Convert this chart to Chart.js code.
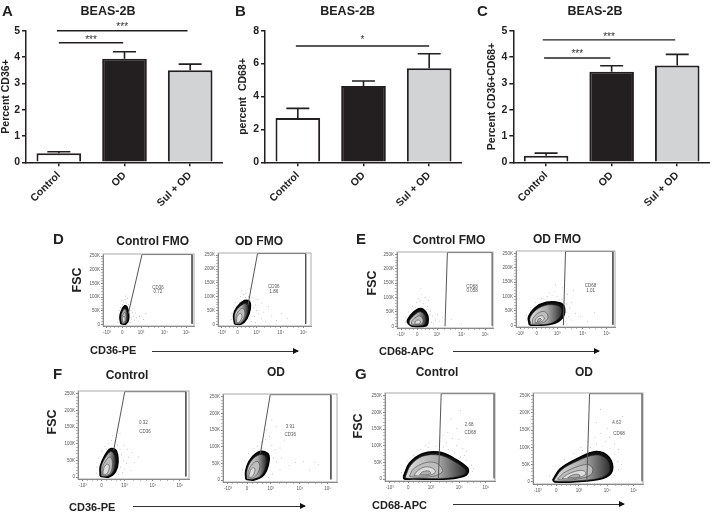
<!DOCTYPE html>
<html>
<head>
<meta charset="utf-8">
<title>BEAS-2B CD36 and CD68</title>
<script src="https://cdn.jsdelivr.net/npm/chart.js@4"></script>
<style>
  html, body { margin: 0; padding: 0; background: #fff; }
  #page { position: relative; width: 710px; height: 514px; overflow: hidden; font-family: "Liberation Sans", Arial, sans-serif; color: #222; filter: blur(0.35px); }
  #page canvas { position: absolute; }
  .txt { position: absolute; white-space: nowrap; font-weight: bold; line-height: 1; }
  .arrow { position: absolute; height: 1.3px; background: #333; }
  .arrow:after { content: ''; position: absolute; right: -1px; top: -3px; border-left: 6px solid #111; border-top: 3.6px solid transparent; border-bottom: 3.6px solid transparent; }
</style>
</head>
<body>
<div id="page"></div>
<script>
// Bar panels A, B, C
const barCategories = ['Control', 'OD', 'Sul + OD'];
const barFills = ['#ffffff', '#231f20', '#d1d3d4'];

const cd36Values = [0.34, 3.93, 3.5];
const cd36Errors = [0.40, 4.2, 3.73];
const cd36Brackets = [[-0.03, 1.96, 5.0, '***', 3], [0, 0.98, 4.54, '***', 3]];

const cd68Values = [2.69, 4.64, 5.71];
const cd68Errors = [3.28, 4.94, 6.6];
const cd68Brackets = [[-0.03, 2.0, 7.07, '*', 6]];

const bothValues = [0.25, 3.44, 3.68];
const bothErrors = [0.35, 3.67, 4.1];
const bothBrackets = [[-0.05, 1.97, 4.65, '***', 3], [-0.03, 0.98, 3.96, '***', 4]];

// Flow plots: x is in channel units, y in thousands of FSC
const flowXTicks = [0, 47, 105, 177, 245];
const flowXLabels = ['-10\u00b3', '0', '10\u00b3', '10\u2074', '10\u2075'];
const flowXMinor = [12, 24, 36, 60, 72, 84, 95, 127, 145, 160, 197, 214, 230];
const flowYTicks = [0, 50, 100, 150, 200, 250];
const flowYMinor = [10, 20, 30, 40, 60, 70, 80, 90, 110, 120, 130, 140, 160, 170, 180, 190, 210, 220, 230, 240];

const ringFills = ['#111111', '#777777', '#bdbdbd', '#dedede', '#b0b0b0'];

const gateD1 = [[66, 40], [108, 256], [262, 256], [262, 2]];
const ringsD1 = [
  [[43, 2], [40, 27], [45, 51], [55, 69], [62, 63], [67, 39], [66, 15], [58, 1]],
  [[46, 4], [44, 26], [48, 46], [55, 56], [60, 50], [63, 32], [61, 12], [54, 3]],
  [[47, 6], [46, 24], [50, 38], [55, 44], [58, 36], [59, 20], [56, 8], [51, 4]],
  [[49, 8], [48, 22], [52, 30], [55, 28], [56, 18], [54, 9]]
];
const specksD1 = [[38, 50], [42, 62], [48, 72], [52, 82], [56, 90], [60, 78], [66, 74], [70, 62], [74, 50], [78, 44], [82, 30], [76, 20], [84, 16], [90, 24], [96, 12], [72, 84], [64, 96], [50, 60], [36, 20], [34, 8], [70, 30], [80, 58], [88, 42], [100, 30], [112, 18], [120, 40], [68, 8], [74, 6], [58, 104], [46, 88]];
const notesD1 = [['CD36', 157, 136], ['0.72', 157, 120]];

const gateD2 = [[78, 68], [107, 256], [252, 256], [252, 2]];
const ringsD2 = [
  [[38, 1], [35, 33], [45, 62], [68, 86], [83, 82], [85, 56], [75, 21], [58, 1]],
  [[40, 3], [38, 32], [47, 56], [66, 74], [76, 70], [78, 50], [69, 20], [55, 3]],
  [[42, 5], [42, 30], [50, 48], [62, 58], [68, 48], [68, 30], [60, 12], [50, 5]],
  [[44, 7], [45, 26], [52, 38], [58, 38], [60, 26], [55, 12], [49, 7]]
];
const specksD2 = [[30, 40], [34, 60], [40, 78], [48, 92], [56, 100], [64, 108], [72, 112], [80, 100], [90, 96], [96, 84], [100, 70], [94, 60], [104, 50], [110, 38], [98, 28], [118, 20], [126, 44], [140, 64], [150, 30], [164, 14], [180, 40], [196, 22], [88, 10], [100, 6], [60, 122], [84, 130], [70, 96], [52, 78], [28, 18], [106, 90], [120, 76], [132, 10]];
const notesD2 = [['CD36', 156, 136], ['1.86', 156, 119]];

const gateE1 = [[128, 0], [135, 256], [266, 256], [266, 2]];
const ringsE1 = [
  [[19, 11], [19, 23], [38, 51], [57, 62], [73, 48], [79, 23], [73, 2], [33, 0]],
  [[24, 8], [26, 22], [42, 42], [56, 50], [68, 40], [72, 22], [66, 5], [34, 3]],
  [[30, 8], [32, 20], [44, 32], [54, 36], [62, 28], [64, 16], [58, 7], [38, 6]],
  [[40, 9], [42, 18], [50, 22], [56, 18], [54, 10], [46, 8]]
];
const specksE1 = [[14, 30], [22, 50], [34, 70], [46, 82], [56, 88], [66, 78], [78, 68], [86, 52], [92, 36], [100, 22], [88, 14], [106, 40], [112, 18], [60, 110], [50, 96], [42, 64], [28, 40], [12, 14], [80, 90], [70, 100], [94, 8], [120, 30], [146, 24], [176, 10], [58, 130], [64, 62], [74, 58], [84, 40]];
const notesE1 = [['CD68', 207, 138], ['0.058', 207, 122]];

const gateE2 = [[122, 0], [128, 257], [262, 257], [262, 2]];
const ringsE2 = [
  [[26, 1], [23, 27], [42, 61], [74, 80], [111, 78], [125, 61], [120, 27], [92, 5], [46, 0]],
  [[30, 3], [28, 26], [46, 54], [76, 70], [106, 68], [116, 56], [112, 30], [88, 8], [48, 2]],
  [[34, 5], [36, 24], [50, 42], [66, 48], [76, 40], [78, 24], [66, 10], [44, 5]],
  [[42, 9], [44, 22], [54, 32], [64, 32], [68, 22], [58, 12]],
  [[48, 12], [50, 20], [56, 24], [60, 20], [54, 13]]
];
const specksE2 = [[18, 36], [30, 62], [44, 78], [60, 92], [76, 100], [90, 104], [104, 100], [118, 90], [132, 74], [140, 60], [130, 46], [136, 30], [146, 18], [128, 14], [156, 40], [110, 88], [96, 116], [120, 130], [134, 108], [100, 140], [150, 120], [170, 30], [190, 12], [210, 44], [144, 80], [84, 112]];
const notesE2 = [['CD68', 199, 138], ['1.01', 199, 121]];

const gateF1 = [[78, 80], [106, 256], [260, 256], [260, 2]];
const ringsF1 = [
  [[44, 2], [44, 31], [56, 65], [70, 85], [84, 80], [89, 46], [83, 17], [66, 0]],
  [[47, 3], [47, 31], [58, 60], [70, 76], [78, 70], [82, 44], [76, 16], [62, 3]],
  [[49, 5], [50, 30], [59, 50], [68, 60], [74, 50], [74, 28], [68, 10], [56, 4]],
  [[51, 8], [53, 26], [60, 38], [66, 36], [66, 22], [60, 9]]
];
const specksF1 = [[36, 30], [40, 56], [48, 78], [56, 92], [64, 100], [72, 110], [80, 104], [88, 96], [94, 82], [98, 66], [102, 50], [96, 30], [106, 22], [110, 40], [116, 60], [124, 74], [130, 44], [86, 120], [94, 130], [76, 124], [104, 94], [112, 84], [100, 14], [90, 8], [34, 12], [60, 84], [122, 20], [140, 60]];
const notesF1 = [['0.32', 153, 162], ['CD36', 157, 136]];

const gateF2 = [[80, 80], [104, 256], [253, 256], [253, 2]];
const ringsF2 = [
  [[44, 2], [44, 29], [56, 63], [80, 86], [99, 78], [100, 49], [88, 15], [64, 0]],
  [[47, 3], [47, 28], [58, 58], [78, 76], [92, 70], [93, 46], [82, 14], [62, 3]],
  [[49, 6], [50, 26], [60, 48], [72, 56], [78, 44], [74, 22], [62, 6]],
  [[51, 9], [54, 24], [60, 36], [66, 34], [64, 18], [58, 9]]
];
const specksF2 = [[36, 30], [42, 58], [50, 80], [62, 94], [72, 102], [82, 112], [92, 122], [102, 130], [108, 104], [116, 92], [112, 66], [120, 54], [132, 66], [150, 44], [166, 52], [186, 56], [214, 52], [222, 46], [200, 30], [128, 30], [110, 18], [100, 8], [96, 150], [108, 180], [120, 160], [138, 120], [84, 96], [128, 96]];
const notesF2 = [['3.91', 153, 160], ['CD36', 153, 136]];

const gateG1 = [[124, 0], [131, 256], [266, 256], [266, 2]];
const ringsG1 = [
  [[35, 8], [50, 47], [83, 76], [124, 81], [158, 66], [199, 32], [195, 12], [149, 0], [58, 0], [37, 0]],
  [[40, 6], [54, 42], [84, 68], [124, 72], [156, 58], [192, 28], [190, 14], [148, 3], [60, 2], [42, 3]],
  [[50, 8], [60, 30], [88, 48], [112, 50], [128, 40], [134, 22], [110, 8], [70, 5]],
  [[62, 10], [70, 24], [90, 36], [110, 32], [116, 20], [96, 10]],
  [[76, 13], [84, 22], [100, 24], [104, 16], [90, 12]]
];
const specksG1 = [[30, 20], [44, 54], [60, 70], [78, 88], [98, 94], [118, 98], [136, 96], [150, 88], [166, 78], [180, 66], [196, 56], [208, 42], [210, 22], [200, 8], [170, 100], [160, 122], [148, 140], [136, 130], [176, 118], [186, 92], [196, 84], [170, 152], [190, 70], [144, 110], [128, 112], [100, 108], [214, 30], [184, 40], [156, 180], [180, 205], [205, 150], [90, 100]];
const notesG1 = [['2.68', 202, 164], ['CD68', 205, 138]];

const gateG2 = [[125, 0], [132, 256], [266, 256], [266, 2]];
const ringsG2 = [
  [[38, 5], [57, 38], [99, 67], [149, 88], [182, 71], [190, 33], [165, 10], [90, 0], [44, 0]],
  [[42, 5], [60, 34], [100, 60], [148, 78], [176, 64], [182, 32], [160, 12], [92, 3], [46, 3]],
  [[50, 8], [66, 26], [100, 44], [128, 50], [140, 38], [134, 20], [100, 8], [66, 5]],
  [[62, 10], [76, 22], [100, 32], [118, 32], [122, 22], [100, 11], [76, 9]],
  [[76, 12], [88, 20], [104, 22], [108, 16], [92, 12]]
];
const specksG2 = [[30, 18], [46, 46], [68, 66], [92, 82], [114, 92], [134, 100], [150, 110], [166, 104], [184, 96], [196, 80], [204, 60], [206, 36], [196, 18], [172, 118], [182, 128], [160, 140], [146, 128], [196, 110], [206, 94], [178, 156], [160, 210], [190, 170], [216, 190], [210, 130], [126, 118], [110, 100], [150, 172], [142, 88], [214, 50]];
const notesG2 = [['4.63', 201, 171], ['CD68', 207, 139]];

const page = document.getElementById('page');

function addCanvas(left, top, width, height) {
  const c = document.createElement('canvas');
  c.width = width;
  c.height = height;
  c.style.left = left + 'px';
  c.style.top = top + 'px';
  c.style.width = width + 'px';
  c.style.height = height + 'px';
  page.appendChild(c);
  return c;
}

function addText(text, x, y, size, opts) {
  opts = opts || {};
  const d = document.createElement('div');
  d.className = 'txt';
  d.textContent = text;
  d.style.fontSize = size + 'px';
  d.style.left = x + 'px';
  d.style.top = y + 'px';
  d.style.transform = (opts.center ? 'translate(-50%,-50%) ' : 'translateY(-50%) ') + (opts.rotate ? 'rotate(-90deg)' : '');
  page.appendChild(d);
}

function addArrow(x1, x2, y) {
  const d = document.createElement('div');
  d.className = 'arrow';
  d.style.left = x1 + 'px';
  d.style.top = y + 'px';
  d.style.width = (x2 - x1) + 'px';
  page.appendChild(d);
}

// Error bars and significance lines read their positions from the chart's scales
const barExtras = {
  id: 'barExtras',
  afterDatasetsDraw(chart, args, opts) {
    const ctx = chart.ctx;
    const x = chart.scales.x;
    const y = chart.scales.y;
    ctx.save();
    ctx.strokeStyle = '#231f20';
    ctx.lineWidth = 1.6;
    opts.errors.forEach(function(top, i) {
      const cx = x.getPixelForValue(i);
      const y0 = y.getPixelForValue(opts.values[i]);
      const y1 = y.getPixelForValue(top);
      ctx.beginPath();
      ctx.moveTo(cx, y0);
      ctx.lineTo(cx, y1);
      ctx.moveTo(cx - 11.5, y1);
      ctx.lineTo(cx + 11.5, y1);
      ctx.stroke();
    });
    opts.brackets.forEach(function(b) {
      const x0 = x.getPixelForValue(0);
      const step = x.getPixelForValue(1) - x0;
      const px = y.getPixelForValue(b[2]);
      ctx.lineWidth = 1.4;
      ctx.beginPath();
      ctx.moveTo(x0 + b[0] * step, px);
      ctx.lineTo(x0 + b[1] * step, px);
      ctx.stroke();
      ctx.fillStyle = '#333';
      ctx.font = '10px "Liberation Sans", Arial, sans-serif';
      ctx.textAlign = 'center';
      ctx.textBaseline = 'middle';
      ctx.fillText(b[3], x0 + (b[0] + b[1]) / 2 * step, px - b[4]);
    });
    ctx.restore();
  }
};

function barChart(left, axisX, axisRight, yMax, yStep, yTitle, values, errors, brackets) {
  const width = Math.ceil(axisRight - left);
  const c = addCanvas(left, 0, width, 215);
  const axisFont = { size: 10.5, weight: 'bold', family: '"Liberation Sans"' };
  return new Chart(c, {
    type: 'bar',
    data: {
      labels: barCategories,
      datasets: [{
        data: values,
        backgroundColor: barFills,
        borderColor: '#231f20',
        borderWidth: 2,
        barPercentage: 0.68,
        categoryPercentage: 1
      }]
    },
    options: {
      responsive: false,
      animation: false,
      layout: { padding: { top: 30.7 } },
      scales: {
        x: {
          afterFit(s) { s.height = 52.7; },
          border: { color: '#231f20', width: 1.5 },
          grid: { drawOnChartArea: false, offset: false, color: '#231f20', tickLength: 4, lineWidth: 1.5 },
          ticks: { minRotation: 45, maxRotation: 45, color: '#222', padding: 3, font: axisFont }
        },
        y: {
          min: 0,
          max: yMax,
          afterFit(s) { s.width = axisX - left; },
          border: { color: '#231f20', width: 1.5 },
          grid: { drawOnChartArea: false, color: '#231f20', tickLength: 4, lineWidth: 1.5 },
          ticks: { stepSize: yStep, color: '#222', padding: 2, font: axisFont },
          title: { display: true, text: yTitle, color: '#222', padding: 0, font: axisFont }
        }
      },
      plugins: {
        legend: { display: false },
        tooltip: { enabled: false },
        barExtras: { values: values, errors: errors, brackets: brackets }
      }
    },
    plugins: [barExtras]
  });
}

// Frame and the small gate labels of a flow plot
const flowExtras = {
  id: 'flowExtras',
  afterDatasetsDraw(chart, args, opts) {
    const ctx = chart.ctx;
    const a = chart.chartArea;
    ctx.save();
    ctx.strokeStyle = '#aaa';
    ctx.lineWidth = 1;
    ctx.strokeRect(a.left, a.top, a.right - a.left, a.bottom - a.top);
    ctx.fillStyle = '#555';
    ctx.font = '4.5px "Liberation Sans", Arial, sans-serif';
    ctx.textAlign = 'center';
    ctx.textBaseline = 'middle';
    opts.notes.forEach(function(n) {
      ctx.fillText(n[0], chart.scales.x.getPixelForValue(n[1]), chart.scales.y.getPixelForValue(n[2]));
    });
    ctx.restore();
  }
};

function toXY(list) {
  return list.map(function(p) { return { x: p[0], y: p[1] }; });
}

function flowChart(baseX, baseY, t0, t4, y0, y250, gate, rings, specks, notes) {
  // tick positions are given in 3x zoom coordinates of the region starting at baseX, baseY
  const pxU = (t4 - t0) / 3 / 245;
  const pxK = (y0 - y250) / 3 / 250;
  const areaLeft = baseX + t0 / 3 - 12 * pxU;
  const areaTop = baseY + y250 / 3 - 8 * pxK;
  const areaW = 280 * pxU;
  const areaH = 264 * pxK;
  const c = addCanvas(Math.round(areaLeft - 16), Math.round(areaTop - 2), Math.round(areaW + 18), Math.round(areaH + 14));

  const datasets = [];
  rings.forEach(function(ring, i) {
    const closed = ring.concat([ring[0]]);
    const xs = ring.map(function(p) { return p[0]; });
    datasets.push({
      type: 'scatter',
      showLine: true,
      data: toXY(closed),
      pointRadius: 0,
      tension: 0.35,
      fill: 'shape',
      borderColor: i === 0 ? '#000' : '#333',
      borderWidth: i === 0 ? 1.5 : 0.5,
      backgroundColor: function(context) {
        const sx = context.chart.scales.x;
        if (i === 1 && sx) {
          // second ring runs from light on the left to dark at the right rim
          const p0 = sx.getPixelForValue(Math.min.apply(null, xs));
          const p1 = sx.getPixelForValue(Math.max.apply(null, xs));
          if (!isFinite(p0) || !isFinite(p1)) return ringFills[i];
          const g = context.chart.ctx.createLinearGradient(p0, 0, p1, 0);
          g.addColorStop(0, '#dddddd');
          g.addColorStop(0.55, '#a8a8a8');
          g.addColorStop(1, '#333333');
          return g;
        }
        return ringFills[i];
      }
    });
  });
  datasets.push({
    type: 'scatter',
    showLine: true,
    data: toXY(gate),
    pointRadius: 0,
    borderColor: '#555',
    borderWidth: 1,
    fill: false
  });
  datasets.unshift({
    type: 'scatter',
    data: toXY(specks),
    pointRadius: 0.45,
    pointBorderWidth: 0,
    pointBackgroundColor: '#888'
  });

  return new Chart(c, {
    type: 'scatter',
    data: { datasets: datasets.reverse() },
    options: {
      responsive: false,
      animation: false,
      layout: { padding: { top: areaTop - Math.round(areaTop - 2), right: 2 } },
      scales: {
        x: {
          min: -12,
          max: 268,
          afterFit(s) { s.height = 12; },
          afterBuildTicks(s) {
            s.ticks = flowXTicks.concat(flowXMinor).map(function(v) { return { value: v }; });
          },
          border: { color: '#444', width: 0.8 },
          grid: {
            drawOnChartArea: false,
            tickLength: 2,
            lineWidth: 0.6,
            tickColor: function(ctx) { return flowXTicks.includes(ctx.tick.value) ? '#333' : '#888'; }
          },
          ticks: {
            autoSkip: false,
            maxRotation: 0,
            padding: 2,
            color: '#555',
            font: { size: 4.5 },
            callback: function(v) {
              const i = flowXTicks.indexOf(v);
              return i < 0 ? '' : flowXLabels[i];
            }
          }
        },
        y: {
          min: -6,
          max: 258,
          afterFit(s) { s.width = 16; },
          afterBuildTicks(s) {
            s.ticks = flowYTicks.concat(flowYMinor).map(function(v) { return { value: v }; });
          },
          border: { color: '#444', width: 0.8 },
          grid: {
            drawOnChartArea: false,
            tickLength: 2,
            lineWidth: 0.6,
            tickColor: function(ctx) { return flowYTicks.includes(ctx.tick.value) ? '#333' : '#888'; }
          },
          ticks: {
            autoSkip: false,
            padding: 1,
            color: '#555',
            font: { size: 4.5 },
            callback: function(v) {
              if (!flowYTicks.includes(v)) return '';
              return v === 0 ? '0' : v + 'K';
            }
          }
        }
      },
      plugins: {
        legend: { display: false },
        tooltip: { enabled: false },
        flowExtras: { notes: notes }
      }
    },
    plugins: [flowExtras]
  });
}

// Bar charts
barChart(0, 26, 222.5, 5, 1, 'Percent CD36+', cd36Values, cd36Errors, cd36Brackets);
barChart(237, 265, 461.7, 8, 2, 'percent  CD68+', cd68Values, cd68Errors, cd68Brackets);
barChart(486, 513.3, 710, 5, 1, 'Percent CD36+CD68+', bothValues, bothErrors, bothBrackets);

// Flow plots
flowChart(40, 225, 200, 445, 298, 87, gateD1, ringsD1, specksD1, notesD1);
flowChart(40, 225, 546, 795, 298, 85, gateD2, ringsD2, specksD2, notesD2);
flowChart(340, 225, 185, 443, 305, 83, gateE1, ringsE1, specksE1, notesE1);
flowChart(340, 225, 540, 805, 299, 78, gateE2, ringsE2, specksE2, notesE2);
flowChart(20, 360, 190, 487, 352, 95, gateF1, ringsF1, specksF1, notesF1);
flowChart(20, 360, 625, 930, 360, 103, gateF2, ringsF2, specksF2, notesF2);
flowChart(340, 360, 150, 445, 358, 102, gateG1, ringsG1, specksG1, notesG1);
flowChart(340, 360, 592, 885, 365, 102, gateG2, ringsG2, specksG2, notesG2);

// Panel letters, titles, axis names
addText('A', 2, 9.5, 15);
addText('B', 235, 9.5, 15);
addText('C', 477, 9.5, 15);
addText('BEAS-2B', 108, 11, 12.5, { center: true });
addText('BEAS-2B', 347.7, 11, 12.5, { center: true });
addText('BEAS-2B', 595, 11, 12.5, { center: true });

addText('D', 53, 238, 15);
addText('E', 356, 238, 15);
addText('F', 53, 373, 15);
addText('G', 355, 373, 15);

addText('Control FMO', 152.7, 240.7, 12, { center: true });
addText('OD FMO', 259, 240.7, 12, { center: true });
addText('Control FMO', 449, 240, 12, { center: true });
addText('OD FMO', 557, 239, 12, { center: true });
addText('Control', 127, 375, 12, { center: true });
addText('OD', 276, 372, 12, { center: true });
addText('Control', 437, 372, 12, { center: true });
addText('OD', 584, 372, 12, { center: true });

addText('FSC', 77, 280, 12.5, { center: true, rotate: true });
addText('FSC', 372, 283, 12.5, { center: true, rotate: true });
addText('FSC', 52, 422, 12.5, { center: true, rotate: true });
addText('FSC', 358, 426, 12.5, { center: true, rotate: true });

addText('CD36-PE', 90, 350, 11);
addText('CD68-APC', 379, 351, 11);
addText('CD36-PE', 69, 507, 11);
addText('CD68-APC', 372, 505, 11);

addArrow(152, 298, 351);
addArrow(453, 599, 351);
addArrow(133, 305, 505.5);
addArrow(453, 624, 504);
</script>
</body>
</html>
